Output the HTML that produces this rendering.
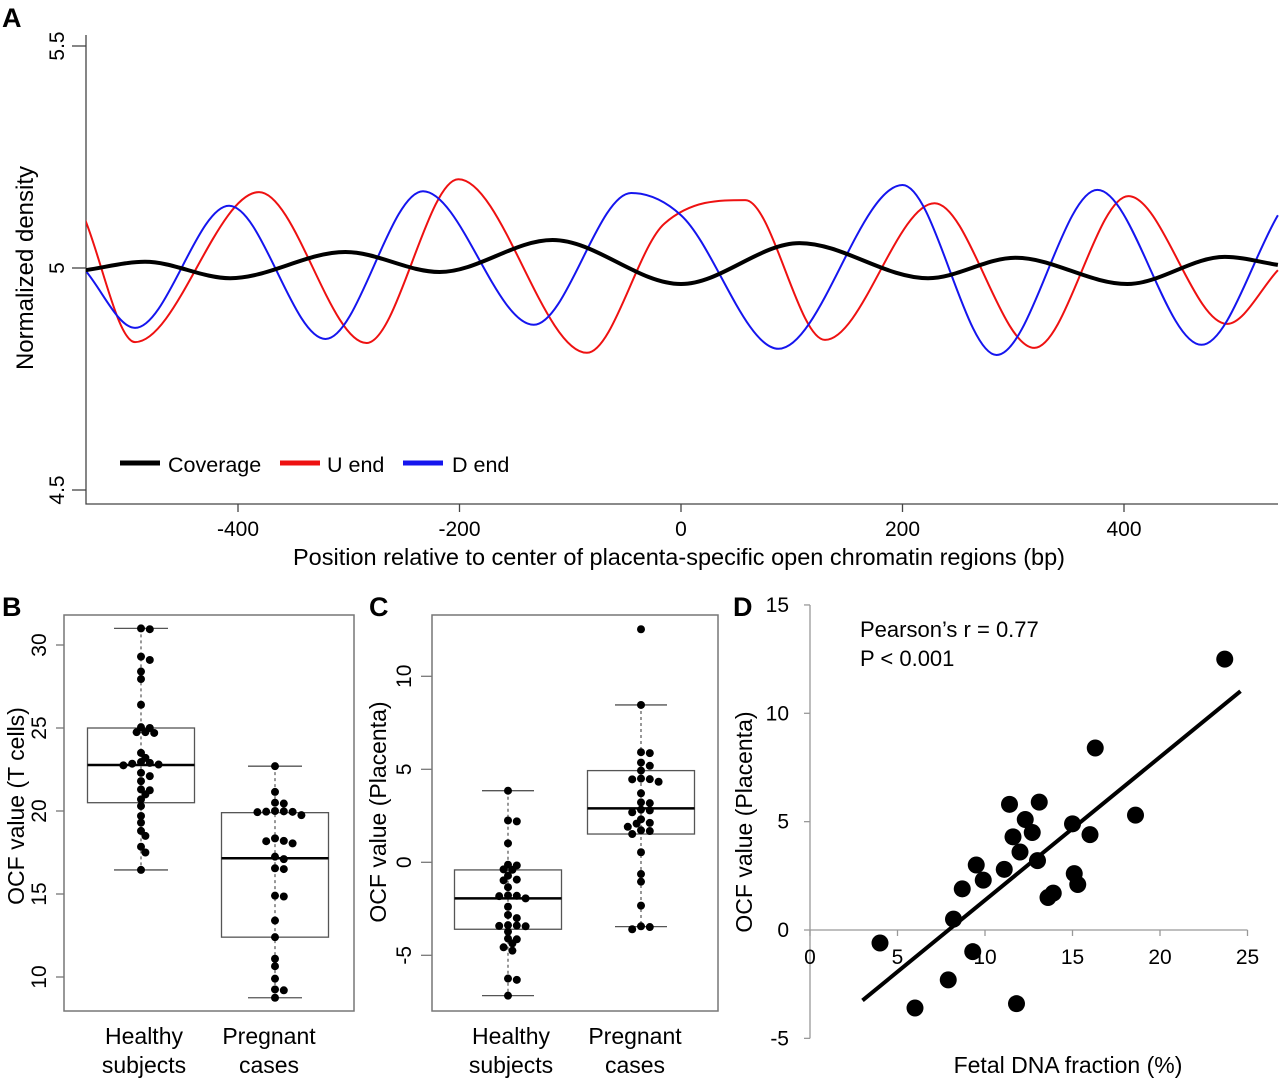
<!DOCTYPE html>
<html><head><meta charset="utf-8"><style>
html,body{margin:0;padding:0;background:#fff;}
svg{display:block;font-family:"Liberation Sans",Arial,sans-serif;}
</style></head><body>
<svg id="fig" width="1280" height="1080" viewBox="0 0 1280 1080" xmlns="http://www.w3.org/2000/svg"></svg>
<script>
// ---------- Panel A data ----------
const redX = [-538,-493,-381,-284,-201,-85,-15,58,130,229,319,404,493,539];
const redY = [5.108,4.833,5.171,4.831,5.200,4.809,5.100,5.153,4.838,5.146,4.820,5.162,4.874,4.995];
const blueX = [-538,-493,-408,-321,-233,-133,-45,0,88,200,285,376,470,539];
const blueY = [4.995,4.865,5.140,4.840,5.173,4.872,5.169,5.119,4.818,5.187,4.804,5.176,4.827,5.119];
const covX = [-538,-484,-407,-303,-218,-116,0,107,223,302,403,491,539];
const covY = [4.995,5.014,4.977,5.036,4.991,5.063,4.964,5.056,4.977,5.023,4.964,5.025,5.007];
const aXTicks = [-400,-200,0,200,400];
const aYTicks = [4.5,5,5.5];
// ---------- Panel B data ----------
const bHealthy = [31.0,30.95,29.3,29.1,28.4,27.95,26.4,25.05,25.0,24.75,24.75,24.7,23.5,23.2,22.95,22.9,22.85,22.8,22.75,22.3,22.1,21.8,21.3,21.25,21.0,20.7,20.3,19.7,19.3,18.8,18.5,17.85,17.5,16.45];
const bPregnant = [22.7,21.15,20.5,20.45,20.0,19.98,19.96,19.95,19.93,19.75,18.35,18.2,18.18,18.05,17.25,17.1,16.55,16.5,14.9,14.85,13.4,12.4,11.1,10.65,9.9,9.25,9.2,8.75];
const bBoxHealthy = [16.45,20.5,22.77,25.0,31.0];   // min,q1,median,q3,max
const bBoxPregnant = [8.75,12.4,17.15,19.9,22.7];
const bYTicks = [10,15,20,25,30];
// ---------- Panel C data ----------
const cHealthy = [3.85,2.25,2.2,1.02,-0.13,-0.17,-0.38,-0.4,-0.72,-0.93,-0.97,-1.34,-1.78,-1.8,-1.82,-1.94,-2.39,-2.83,-3.0,-3.38,-3.4,-3.42,-3.44,-3.73,-4.1,-4.14,-4.36,-4.57,-4.75,-6.25,-6.32,-7.17];
const cPregnant = [12.53,8.46,5.92,5.87,5.36,5.19,4.93,4.5,4.47,4.46,4.33,3.71,3.22,3.18,2.83,2.79,2.69,2.31,2.12,2.08,1.91,1.72,1.68,1.52,0.54,-0.63,-1.04,-2.33,-3.44,-3.48,-3.6];
const cBoxHealthy = [-7.17,-3.6,-1.94,-0.41,3.85];
const cBoxPregnant = [-3.46,1.52,2.9,4.93,8.46];
const cYTicks = [-5,0,5,10];
// ---------- Panel D data ----------
const dFetal = [4,6,7.9,8.2,8.7,9.3,9.5,9.9,11.1,11.4,11.6,11.8,12,12.3,12.7,13,13.1,13.6,13.9,15,15.1,15.3,16,16.3,18.6,23.7];
const dOCF = [-0.6,-3.6,-2.3,0.5,1.9,-1,3,2.3,2.8,5.8,4.3,-3.4,3.6,5.1,4.5,3.2,5.9,1.5,1.7,4.9,2.6,2.1,4.4,8.4,5.3,12.5];
const dFitRange = [3,24.6];
const dXTicks = [0,5,10,15,20,25];
const dYTicks = [-5,0,5,10,15];

const NS='http://www.w3.org/2000/svg';
const svg=document.getElementById('fig');
function mk(tag,attrs,parent,text){const e=document.createElementNS(NS,tag);for(const k in attrs)e.setAttribute(k,attrs[k]);if(text!==undefined)e.textContent=text;(parent||svg).appendChild(e);return e;}
function grp(name){const g=document.createElementNS(NS,'g');


svg.appendChild(g);return g;}

function monoPath(xs,ys,sx,sy){
  const n=xs.length,d=[],m=[];
  for(let i=0;i<n-1;i++)d.push((ys[i+1]-ys[i])/(xs[i+1]-xs[i]));
  m[0]=d[0];m[n-1]=d[n-2];
  for(let i=1;i<n-1;i++){m[i]=(d[i-1]*d[i]<=0)?0:(d[i-1]+d[i])/2;}
  for(let i=0;i<n-1;i++){if(d[i]===0){m[i]=0;m[i+1]=0;continue;}const a=m[i]/d[i],b=m[i+1]/d[i],s=a*a+b*b;if(s>9){const t=3/Math.sqrt(s);m[i]=t*a*d[i];m[i+1]=t*b*d[i];}}
  let p='M'+sx(xs[0]).toFixed(1)+','+sy(ys[0]).toFixed(1);
  for(let i=0;i<n-1;i++){const h=xs[i+1]-xs[i];
    p+=' C'+sx(xs[i]+h/3).toFixed(1)+','+sy(ys[i]+m[i]*h/3).toFixed(1)+' '+sx(xs[i+1]-h/3).toFixed(1)+','+sy(ys[i+1]-m[i+1]*h/3).toFixed(1)+' '+sx(xs[i+1]).toFixed(1)+','+sy(ys[i+1]).toFixed(1);}
  return p;
}

// ===== Panel A =====
const ax=v=>681+v*1.1075, ay=v=>268-(v-5)*444;
const gA=grp('panel-a');
mk('text',{x:2,y:27,'font-size':27,'font-weight':'bold',},gA,'A');
mk('polyline',{points:'86,35 86,504 1278,504',fill:'none',stroke:'#444','stroke-width':1.3,},gA);
aXTicks.forEach(t=>{const x=ax(t);
 mk('line',{x1:x,x2:x,y1:504,y2:512,stroke:'#444','stroke-width':1.3,},gA);
 mk('text',{x:x,y:536,'font-size':21,'text-anchor':'middle',},gA,String(t));});
aYTicks.forEach(t=>{const y=ay(t);
 mk('line',{x1:72,x2:86,y1:y,y2:y,stroke:'#444','stroke-width':1.3,},gA);
 mk('text',{x:64,y:y,'font-size':21,'text-anchor':'middle',transform:`rotate(-90 64 ${y})`,},gA,String(t));});
mk('text',{x:679,y:565,'font-size':23.5,'text-anchor':'middle',},gA,'Position relative to center of placenta-specific open chromatin regions (bp)');
mk('text',{x:33,y:268,'font-size':24,'text-anchor':'middle',transform:'rotate(-90 33 268)',},gA,'Normalized density');
const clipA=mk('clipPath',{id:'clipA'},gA);mk('rect',{x:86,y:30,width:1194,height:474},clipA);
mk('path',{d:monoPath(redX,redY,ax,ay),fill:'none',stroke:'#ee1111','stroke-width':2,'clip-path':'url(#clipA)',},gA);
mk('path',{d:monoPath(blueX,blueY,ax,ay),fill:'none',stroke:'#1515ee','stroke-width':2,'clip-path':'url(#clipA)',},gA);
mk('path',{d:monoPath(covX,covY,ax,ay),fill:'none',stroke:'#000','stroke-width':4,'clip-path':'url(#clipA)',},gA);
const leg=[['Coverage','#000',120,168],['U end','#ee1111',280,327],['D end','#1515ee',403,452]];
leg.forEach(l=>{const lg=mk('g',{},gA);
 mk('line',{x1:l[2],x2:l[2]+40,y1:463,y2:463,stroke:l[1],'stroke-width':5},lg);
 mk('text',{x:l[3],y:472,'font-size':21.5},lg,l[0]);});

// ===== swarm helper =====
function swarm(vals,cx,sy,r){const pts=[];const sorted=vals.slice().sort((a,b)=>b-a);
 sorted.forEach(v=>{const y=sy(v);const offs=[0];for(let k=1;k<10;k++){offs.push(k*r*1.1,-k*r*1.1);}
  for(const o of offs){const x=cx+o;if(pts.every(p=>Math.hypot(p[0]-x,p[1]-y)>=r*1.5)){pts.push([x,y,v]);break;}}});return pts;}

function boxPanel(g,frame,sy,boxes,dots,centers,halfW,capW,ticks,tickX,labelX){
 mk('rect',{x:frame[0],y:frame[1],width:frame[2]-frame[0],height:frame[3]-frame[1],fill:'none',stroke:'#777','stroke-width':1.5,},g);
 ticks.forEach(t=>{const y=sy(t);
  mk('line',{x1:tickX,x2:frame[0],y1:y,y2:y,stroke:'#777','stroke-width':1.3,},g);
  mk('text',{x:labelX,y:y,'font-size':21,'text-anchor':'middle',transform:`rotate(-90 ${labelX} ${y})`,},g,String(t));});
 boxes.forEach((b,i)=>{const cx=centers[i];const bg=mk('g',{},g);
  mk('line',{x1:cx,x2:cx,y1:sy(b[4]),y2:sy(b[0]),stroke:'#555','stroke-width':1.2,'stroke-dasharray':'3,3'},bg);
  mk('line',{x1:cx-capW,x2:cx+capW,y1:sy(b[4]),y2:sy(b[4]),stroke:'#555','stroke-width':1.3},bg);
  mk('line',{x1:cx-capW,x2:cx+capW,y1:sy(b[0]),y2:sy(b[0]),stroke:'#555','stroke-width':1.3},bg);
  mk('rect',{x:cx-halfW,y:sy(b[3]),width:2*halfW,height:sy(b[1])-sy(b[3]),fill:'none',stroke:'#555','stroke-width':1.3},bg);
  mk('line',{x1:cx-halfW,x2:cx+halfW,y1:sy(b[2]),y2:sy(b[2]),stroke:'#000','stroke-width':2.5},bg);
  swarm(dots[i],cx,sy,4).forEach(p=>{mk('circle',{cx:p[0],cy:p[1],r:4,fill:'#000',},bg);});
  const lbl=i?['Pregnant','cases']:['Healthy','subjects'];
  mk('text',{x:cx+(i?-6:3),y:1044,'font-size':23,'text-anchor':'middle',},g,lbl[0]);
  mk('text',{x:cx+(i?-6:3),y:1073,'font-size':23,'text-anchor':'middle',},g,lbl[1]);});
}

// ===== Panel B =====
const gB=grp('panel-b');
mk('text',{x:2,y:616,'font-size':27,'font-weight':'bold',},gB,'B');
const by=v=>645-(v-30)*16.6;
boxPanel(gB,[64,615,354,1011],by,[bBoxHealthy,bBoxPregnant],[bHealthy,bPregnant],[141,275],53.5,27,bYTicks,56,46);
mk('text',{x:24,y:806,'font-size':23,'text-anchor':'middle',transform:'rotate(-90 24 806)',},gB,'OCF value (T cells)');

// ===== Panel C =====
const gC=grp('panel-c');
mk('text',{x:369,y:616,'font-size':27,'font-weight':'bold',},gC,'C');
const cy=v=>862.3-v*18.6;
boxPanel(gC,[432,615,718,1011],cy,[cBoxHealthy,cBoxPregnant],[cHealthy,cPregnant],[508,641],53.5,26,cYTicks,421,411);
mk('text',{x:386,y:812,'font-size':23,'text-anchor':'middle',transform:'rotate(-90 386 812)',},gC,'OCF value (Placenta)');

// ===== Panel D =====
const gD=grp('panel-d');
mk('text',{x:733,y:616,'font-size':27,'font-weight':'bold',},gD,'D');
const dx=v=>810+v*17.5, dy=v=>930-v*21.67;
mk('line',{x1:dx(0),x2:dx(0),y1:dy(15),y2:dy(-5),stroke:'#999','stroke-width':1.3,},gD);
mk('line',{x1:dx(0),x2:dx(25),y1:dy(0),y2:dy(0),stroke:'#999','stroke-width':1.3,},gD);
dYTicks.forEach(t=>{const y=dy(t);
 mk('line',{x1:dx(0)-6,x2:dx(0),y1:y,y2:y,stroke:'#999','stroke-width':1.3,},gD);
 mk('text',{x:789,y:y+7,'font-size':21,'text-anchor':'end',},gD,String(t));});
dXTicks.forEach(t=>{const x=dx(t);
 mk('line',{x1:x,x2:x,y1:dy(0),y2:dy(0)+6,stroke:'#999','stroke-width':1.3,},gD);
 mk('text',{x:x,y:964,'font-size':21,'text-anchor':'middle',},gD,String(t));});
(function(){const n=dFetal.length;let sx=0,sy=0,sxx=0,sxy=0;for(let i=0;i<n;i++){sx+=dFetal[i];sy+=dOCF[i];sxx+=dFetal[i]*dFetal[i];sxy+=dFetal[i]*dOCF[i];}
 const b=(n*sxy-sx*sy)/(n*sxx-sx*sx),a=(sy-b*sx)/n;
 mk('line',{x1:dx(dFitRange[0]),y1:dy(a+b*dFitRange[0]),x2:dx(dFitRange[1]),y2:dy(a+b*dFitRange[1]),stroke:'#000','stroke-width':4,},gD);})();
dFetal.forEach((f,i)=>{mk('circle',{cx:dx(f),cy:dy(dOCF[i]),r:8.5,fill:'#000',},gD);});
mk('text',{x:860,y:637,'font-size':22,},gD,'Pearson\u2019s r = 0.77');
mk('text',{x:860,y:666,'font-size':22,},gD,'P < 0.001');
mk('text',{x:1068,y:1073,'font-size':23,'text-anchor':'middle',},gD,'Fetal DNA fraction (%)');
mk('text',{x:752,y:822,'font-size':23,'text-anchor':'middle',transform:'rotate(-90 752 822)',},gD,'OCF value (Placenta)');
</script>
</body></html>
